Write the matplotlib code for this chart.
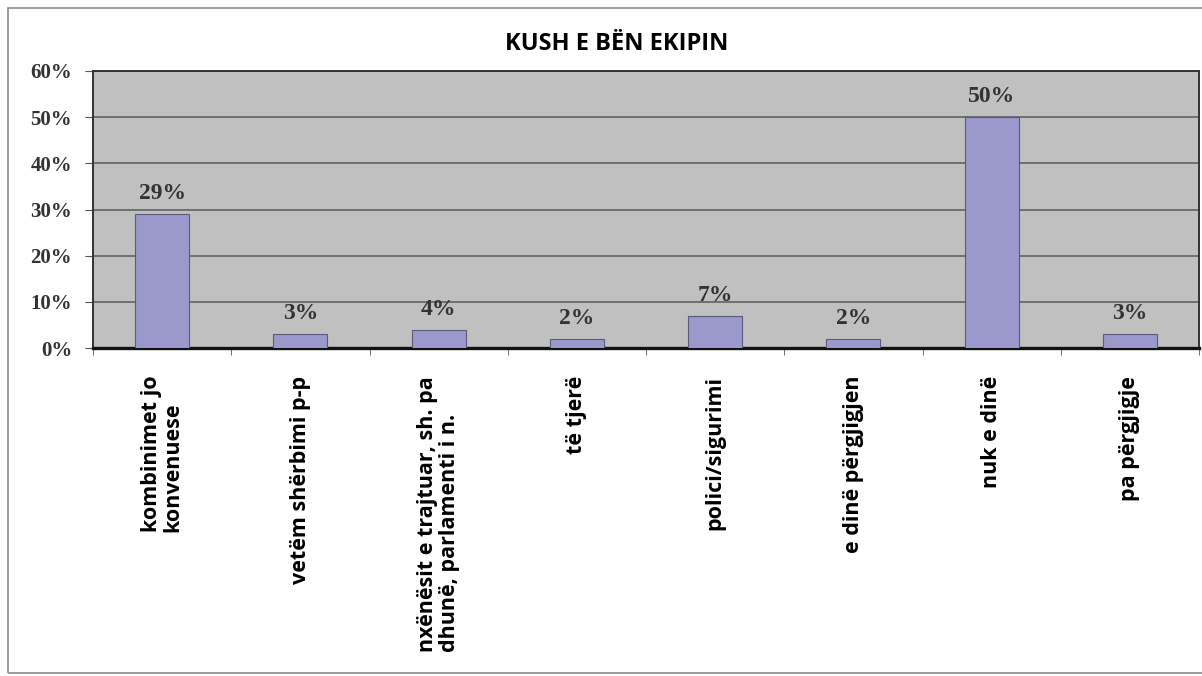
import numpy as np
import matplotlib.pyplot as plt
from matplotlib.patches import Rectangle

categories = [
    "kombinimet jo\nkonvenuese",
    "vetëm shërbimi p-p",
    "nxënësit e trajtuar, sh. pa\ndhunë, parlamenti i n.",
    "të tjerë",
    "polici/sigurimi",
    "e dinë përgjigjen",
    "nuk e dinë",
    "pa përgjigje",
]
values = [29, 3, 4, 2, 7, 2, 50, 3]
yticks = [0, 10, 20, 30, 40, 50, 60]

W, H = 1202, 676
fig = plt.figure(figsize=(W / 100, H / 100), dpi=100)
fig.patch.set_facecolor("white")

# outer chart frame
fig.add_artist(Rectangle((8 / W, 3 / H), 1.2, (H - 11) / H, transform=fig.transFigure,
                         fill=False, edgecolor="#8a8a8a", linewidth=1.2))

ax = fig.add_axes([93 / W, 1 - 348 / H, (1199 - 93) / W, (348 - 71) / H])
ax.set_facecolor("#c0c0c0")

x = np.arange(len(values))
ax.bar(x, values, width=0.39, color="#9b98cc", edgecolor="#5a5a7a", linewidth=0.8, zorder=3)
ax.set_xlim(-0.5, len(values) - 0.5)
ax.set_ylim(0, 60)

ax.set_yticks(yticks)
ax.set_yticklabels([f"{v}%" for v in yticks], family="Liberation Serif",
                   fontsize=15, fontweight="bold", color="#333333")
ax.yaxis.grid(True, color="#5a5a5a", linewidth=1.1, zorder=0)
ax.set_axisbelow(True)

ax.set_xticks(np.arange(len(values) + 1) - 0.5, minor=True)
ax.set_xticks(x)
ax.set_xticklabels(categories, rotation=90, family="Open Sans", fontsize=15.5,
                   fontweight="bold", va="top", ha="center", linespacing=1.05,
                   multialignment="left")
ax.tick_params(axis="x", which="major", length=0, pad=20)
ax.tick_params(axis="x", which="minor", length=5, color="#555555")
ax.tick_params(axis="y", length=6, color="#555555", pad=9)

for s in ["top", "right", "left"]:
    ax.spines[s].set_color("#333333")
    ax.spines[s].set_linewidth(1.4)
ax.spines["bottom"].set_color("#111111")
ax.spines["bottom"].set_linewidth(2.4)

for xi, v in zip(x, values):
    ax.annotate(f"{v}%", (xi, v), xytext=(0, 7), textcoords="offset points",
                ha="center", va="bottom", family="Liberation Serif",
                fontsize=17, fontweight="bold", color="#333333")

fig.text(617 / W, 1 - 44 / H, "KUSH E BËN EKIPIN", ha="center", va="center",
         family="Open Sans", fontsize=17, fontweight="bold")

fig.savefig("out.png", dpi=100)
